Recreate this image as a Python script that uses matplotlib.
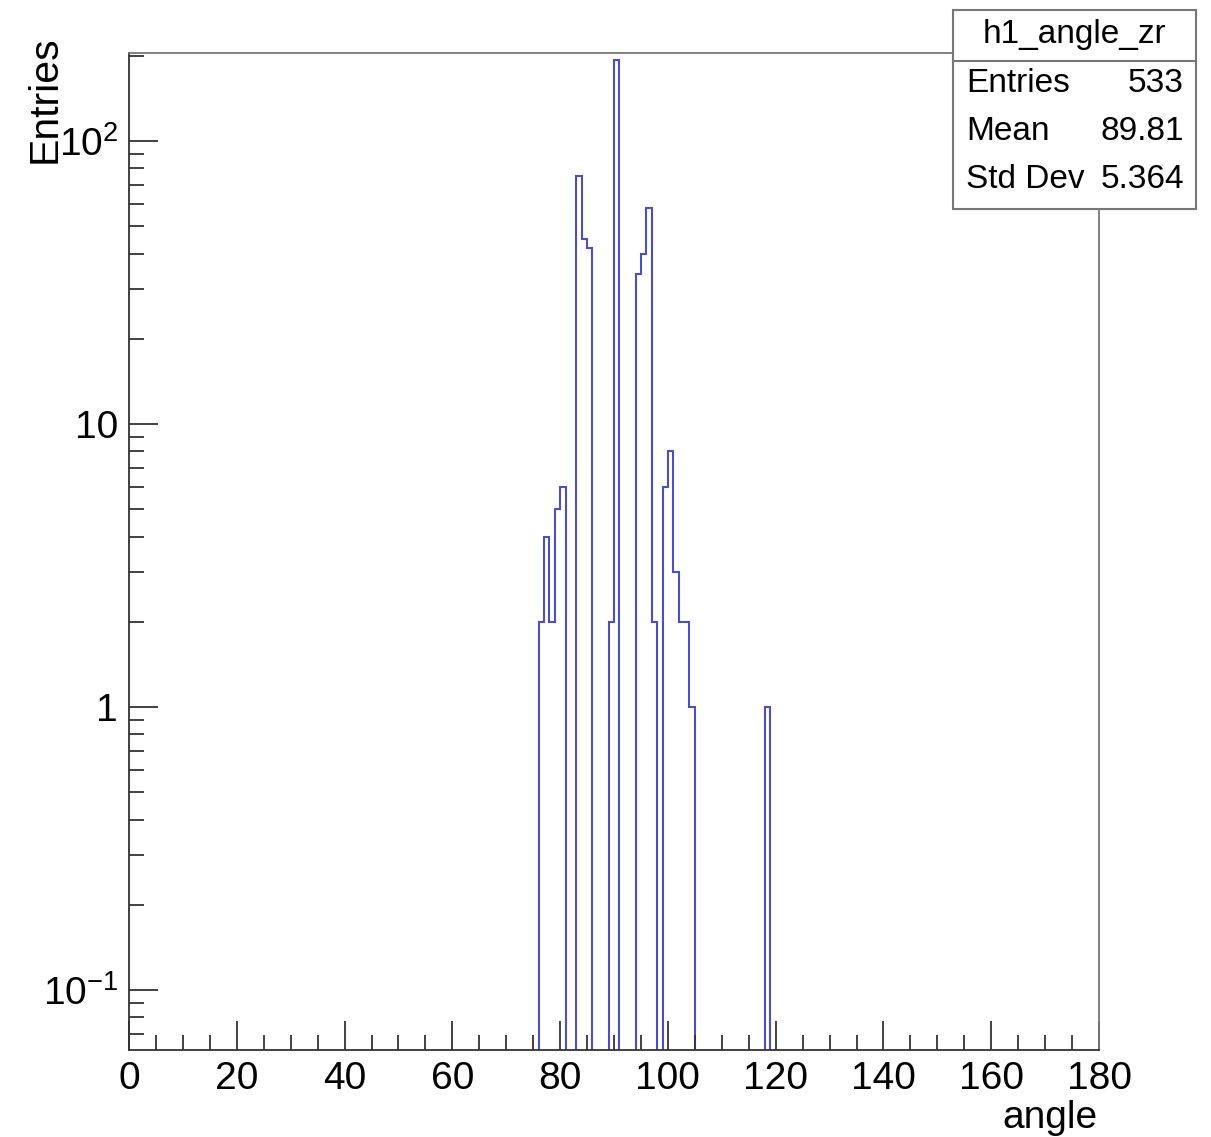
import numpy as np
import matplotlib
matplotlib.use("Agg")
import matplotlib.pyplot as plt
from matplotlib.patches import Rectangle
from matplotlib.lines import Line2D
from matplotlib.ticker import FixedLocator, MultipleLocator, LogLocator, NullFormatter

plt.rcParams['font.family'] = ['Liberation Sans', 'DejaVu Sans']
plt.rcParams['mathtext.fontset'] = 'custom'
plt.rcParams['mathtext.rm'] = 'Liberation Sans'

# histogram h1_angle_zr: 180 bins of width 1 over [0, 180]
n_bins = 180
x_min, x_max = 0, 180
filled_bins = [76, 77, 78, 79, 80, 83, 84, 85, 89, 90, 94, 95, 96, 97,
               99, 100, 101, 102, 103, 104, 118]
filled_counts = [2, 4, 2, 5, 6, 75, 45, 42, 2, 193, 34, 40, 58, 2,
                 6, 8, 3, 2, 2, 1, 1]

stat_title = "h1_angle_zr"
stat_names = ["Entries", "Mean", "Std Dev"]
stat_values = ["533", "89.81", "5.364"]

x_ticks = [0, 20, 40, 60, 80, 100, 120, 140, 160, 180]
y_ticks = [0.1, 1, 10, 100]
y_tick_labels = [r"$\mathregular{10^{-1}}$", "1", "10", r"$\mathregular{10^{2}}$"]

counts = np.zeros(n_bins)
counts[filled_bins] = filled_counts
edges = np.linspace(x_min, x_max, n_bins + 1)

W, H = 1211, 1137
fig = plt.figure(figsize=(W / 100, H / 100), dpi=100)
ax = fig.add_axes([129 / W, 1 - 1050 / H, (1099 - 129) / W, (1050 - 53) / H])

# empty bins go below the frame, like ROOT does on a log axis
plot_counts = np.where(counts > 0, counts, 1e-3)
ax.stairs(plot_counts, edges, baseline=1e-3, color="#4f4fbb", lw=1.5)

ax.set_yscale("log")
ax.set_xlim(x_min, x_max)
ax.set_ylim(0.0614, 204.6)

ax.xaxis.set_major_locator(FixedLocator(x_ticks))
ax.xaxis.set_minor_locator(MultipleLocator(5))
ax.set_xticklabels([str(t) for t in x_ticks])
ax.yaxis.set_major_locator(FixedLocator(y_ticks))
ax.yaxis.set_minor_locator(LogLocator(base=10, subs=np.arange(2, 10)))
ax.yaxis.set_minor_formatter(NullFormatter())
ax.set_yticklabels(y_tick_labels)

ax.tick_params(which="both", direction="in", top=False, right=False,
               labelsize=28, color="#333333", width=1.3)
ax.tick_params(which="major", length=21)
ax.tick_params(which="minor", length=10.8)
ax.tick_params(axis="x", pad=8)
ax.tick_params(axis="y", pad=8)

for s in ax.spines.values():
    s.set_linewidth(1.3)
    s.set_color("#333333")
ax.spines["top"].set_color("#777777")
ax.spines["right"].set_color("#777777")

fig.text(1097 / W, 1 - 1128 / H, "angle", ha="right", va="baseline", fontsize=28)
fig.text(45 / W, 1 - 35 / H, "Entries", ha="center", va="top", rotation=90, fontsize=29.5)

# stats box
bx0, bx1, by0, by1 = 953, 1196, 10, 209
fig.patches.append(Rectangle((bx0 / W, 1 - by1 / H), (bx1 - bx0) / W, (by1 - by0) / H,
                             transform=fig.transFigure, facecolor="white",
                             edgecolor="#777777", lw=1.5, zorder=5))
fig.lines.append(Line2D([bx0 / W, bx1 / W], [1 - 60.5 / H, 1 - 60.5 / H],
                        transform=fig.transFigure, color="#777777", lw=1.5, zorder=6))
fig.text((bx0 + bx1) / 2 / W, 1 - 35 / H, stat_title, ha="center", va="center",
         fontsize=24, zorder=7)
for i, (name, val) in enumerate(zip(stat_names, stat_values)):
    yy = 1 - (83 + 48.5 * i) / H
    fig.text(966 / W, yy, name, ha="left", va="center", fontsize=24, zorder=7)
    fig.text(1184 / W, yy, val, ha="right", va="center", fontsize=24, zorder=7)

fig.savefig("out.png", dpi=100)
